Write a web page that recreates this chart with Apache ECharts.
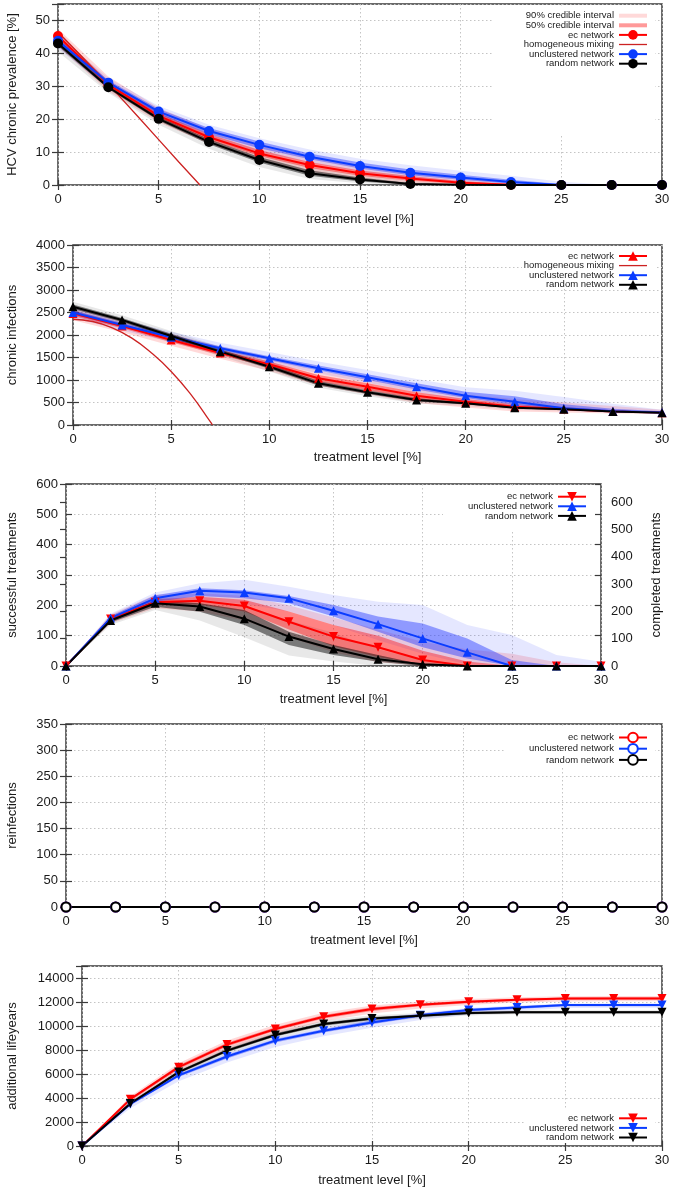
<!DOCTYPE html>
<html>
<head>
<meta charset="utf-8">
<script src="https://cdn.jsdelivr.net/npm/echarts@6/dist/echarts.min.js"></script>
<style>
  body { margin: 0; background: #fff; }
  .panel { position: absolute; left: 0; width: 675px; }
</style>
</head>
<body>
<div id="p1" class="panel" style="top:0;height:228px"></div>
<div id="p2" class="panel" style="top:228px;height:237px"></div>
<div id="p3" class="panel" style="top:465px;height:245px"></div>
<div id="p4" class="panel" style="top:710px;height:240px"></div>
<div id="p5" class="panel" style="top:950px;height:240px"></div>
<script>
// treatment levels [%]
const levels = [0, 2.5, 5, 7.5, 10, 12.5, 15, 17.5, 20, 22.5, 25, 27.5, 30];

// panel 1: HCV chronic prevalence [%]
const ecPrev = [45.3, 30.5, 21.0, 14.5, 9.6, 6.1, 3.6, 2.0, 0.7, 0.1, 0, 0, 0];
const uncPrev = [43.8, 31.1, 22.3, 16.4, 12.2, 8.6, 5.8, 3.7, 2.3, 0.9, 0, 0, 0];
const randPrev = [43.0, 29.7, 20.1, 13.1, 7.6, 3.6, 1.7, 0.3, 0.05, 0, 0, 0, 0];
const hmPrevX = [0, 1, 2, 3, 4, 5, 6, 7.05];
const hmPrevY = [46.5, 40.2, 33.8, 27.3, 20.6, 13.8, 7.0, 0];
const ecPrev90Lo = [42, 28.5, 19, 12.5, 7.5, 4, 1.8, 0.6, 0, 0, 0, 0, 0];
const ecPrev90Hi = [47.5, 33, 23.5, 17, 12, 8.5, 5.5, 3.5, 2, 0.8, 0.2, 0, 0];
const ecPrev50Lo = [44.3, 29.8, 20.2, 13.7, 8.8, 5.2, 2.8, 1.3, 0.3, 0, 0, 0, 0];
const ecPrev50Hi = [46.4, 31.5, 21.9, 15.5, 10.6, 7.0, 4.4, 2.7, 1.2, 0.3, 0, 0, 0];
const uncPrev90Lo = [41.5, 29.5, 20.5, 14.3, 10, 6.8, 4, 2, 0.7, 0, 0, 0, 0];
const uncPrev90Hi = [45.5, 32.5, 24, 18.3, 14.2, 10.8, 8, 6, 4.3, 2.8, 1, 0, 0];
const uncPrev50Lo = [43, 30.4, 21.5, 15.4, 11.2, 7.8, 5, 3, 1.6, 0.4, 0, 0, 0];
const uncPrev50Hi = [44.6, 31.8, 23.1, 17.3, 13.2, 9.6, 6.8, 4.7, 3.1, 1.6, 0.3, 0, 0];
const randPrev90Lo = [40.5, 28, 18.3, 11, 5.5, 1.8, 0.5, 0, 0, 0, 0, 0, 0];
const randPrev90Hi = [45, 31, 22, 15, 9.7, 5.5, 3.2, 1.2, 0.4, 0, 0, 0, 0];
const randPrev50Lo = [42.2, 29.2, 19.5, 12.4, 6.8, 2.8, 1.1, 0.1, 0, 0, 0, 0, 0];
const randPrev50Hi = [43.8, 30.3, 20.8, 13.9, 8.5, 4.5, 2.3, 0.6, 0.1, 0, 0, 0, 0];

// panel 2: chronic infections
const ecChronic = [2480, 2200, 1890, 1600, 1350, 1037, 851, 651, 518, 407, 355, 300, 275];
const uncChronic = [2500, 2222, 1950, 1704, 1482, 1260, 1059, 851, 651, 518, 371, 305, 278];
const randChronic = [2629, 2333, 1978, 1630, 1296, 926, 726, 555, 481, 384, 349, 298, 273];
const hmChronicX = [0, 1, 2, 3, 4, 5, 6, 7, 7.1];
const hmChronicY = [2350, 2300, 2160, 1930, 1600, 1190, 680, 70, 0];
const ecChronic90Lo = [2330, 2060, 1760, 1470, 1200, 880, 680, 490, 390, 300, 280, 255, 245];
const ecChronic90Hi = [2620, 2340, 2030, 1740, 1500, 1200, 1020, 820, 680, 580, 500, 420, 340];
const ecChronic50Lo = [2420, 2150, 1840, 1550, 1290, 970, 780, 580, 460, 370, 330, 285, 262];
const ecChronic50Hi = [2540, 2250, 1940, 1660, 1410, 1110, 930, 730, 580, 460, 400, 330, 295];
const uncChronic90Lo = [2380, 2100, 1840, 1600, 1380, 1150, 940, 730, 540, 400, 320, 275, 255];
const uncChronic90Hi = [2620, 2340, 2070, 1830, 1620, 1410, 1220, 1020, 840, 760, 620, 470, 340];
const uncChronic50Lo = [2450, 2170, 1900, 1660, 1440, 1210, 1000, 790, 600, 450, 345, 292, 268];
const uncChronic50Hi = [2550, 2270, 2000, 1750, 1530, 1320, 1130, 930, 740, 640, 460, 360, 305];
const randChronic90Lo = [2520, 2230, 1870, 1530, 1190, 830, 640, 480, 420, 340, 315, 280, 258];
const randChronic90Hi = [2740, 2440, 2090, 1740, 1410, 1030, 820, 640, 540, 430, 385, 330, 305];
const randChronic50Lo = [2580, 2290, 1930, 1590, 1250, 880, 690, 520, 455, 365, 335, 292, 266];
const randChronic50Hi = [2680, 2380, 2030, 1680, 1350, 980, 770, 595, 505, 405, 365, 315, 285];

// panel 3: successful treatments
const ecSucc = [0, 155, 210, 215, 198, 146, 97, 62, 20, 0, 0, 0, 0];
const uncSucc = [0, 158, 223, 248, 242, 223, 182, 138, 91, 45, 0, 0, 0];
const randSucc = [0, 150, 207, 196, 156, 97, 56, 22, 6, 0, 0, 0, 0];
const ecSucc90Lo = [0, 140, 190, 180, 150, 95, 45, 12, 0, 0, 0, 0, 0];
const ecSucc90Hi = [0, 170, 235, 240, 232, 200, 160, 120, 80, 55, 40, 12, 0];
const ecSucc50Lo = [0, 148, 202, 203, 180, 120, 65, 30, 5, 0, 0, 0, 0];
const ecSucc50Hi = [0, 162, 220, 228, 218, 180, 135, 100, 50, 15, 0, 0, 0];
const uncSucc90Lo = [0, 145, 200, 215, 205, 180, 135, 85, 40, 5, 0, 0, 0];
const uncSucc90Hi = [0, 172, 242, 273, 284, 261, 234, 212, 201, 135, 102, 36, 14];
const uncSucc50Lo = [0, 152, 212, 231, 223, 207, 163, 113, 62, 25, 0, 0, 0];
const uncSucc50Hi = [0, 165, 233, 256, 250, 231, 201, 163, 140, 91, 20, 0, 0];
const randSucc90Lo = [0, 135, 185, 150, 95, 35, 15, 0, 0, 0, 0, 0, 0];
const randSucc90Hi = [0, 165, 225, 215, 195, 150, 110, 55, 20, 0, 0, 0, 0];
const randSucc50Lo = [0, 143, 195, 179, 135, 69, 36, 14, 0, 0, 0, 0, 0];
const randSucc50Hi = [0, 157, 215, 207, 185, 113, 69, 36, 5, 0, 0, 0, 0];

// panel 4: reinfections
const ecReinf = [0, 0, 0, 0, 0, 0, 0, 0, 0, 0, 0, 0, 0];
const uncReinf = [0, 0, 0, 0, 0, 0, 0, 0, 0, 0, 0, 0, 0];
const randReinf = [0, 0, 0, 0, 0, 0, 0, 0, 0, 0, 0, 0, 0];

// panel 5: additional lifeyears
const ecLife = [0, 3900, 6570, 8450, 9750, 10770, 11410, 11765, 12013, 12180, 12290, 12290, 12290];
const uncLife = [0, 3500, 5880, 7460, 8780, 9610, 10300, 10900, 11325, 11540, 11740, 11740, 11740];
const randLife = [0, 3540, 6160, 7950, 9250, 10165, 10630, 10850, 11077, 11150, 11150, 11150, 11150];
const ecLife90Lo = [0, 3600, 6200, 8050, 9350, 10400, 11050, 11450, 11750, 11950, 12050, 12070, 12070];
const ecLife90Hi = [0, 4150, 6900, 8800, 10100, 11100, 11700, 12050, 12250, 12400, 12480, 12500, 12500];
const ecLife50Lo = [0, 3780, 6420, 8300, 9600, 10620, 11260, 11640, 11900, 12080, 12190, 12200, 12200];
const ecLife50Hi = [0, 4000, 6720, 8600, 9900, 10920, 11560, 11880, 12120, 12280, 12380, 12390, 12390];
const uncLife90Lo = [0, 3150, 5400, 6950, 8250, 9150, 9850, 10500, 10950, 11250, 11500, 11520, 11520];
const uncLife90Hi = [0, 3700, 6100, 7700, 9000, 9850, 10550, 11100, 11500, 11700, 11880, 11900, 11900];
const uncLife50Lo = [0, 3400, 5750, 7300, 8620, 9450, 10150, 10770, 11200, 11420, 11640, 11650, 11650];
const uncLife50Hi = [0, 3600, 6000, 7600, 8920, 9760, 10450, 11020, 11430, 11640, 11830, 11830, 11830];
const randLife90Lo = [0, 3350, 5900, 7650, 8950, 9850, 10350, 10620, 10880, 10970, 10980, 10980, 10980];
const randLife90Hi = [0, 3750, 6400, 8250, 9550, 10450, 10900, 11080, 11270, 11320, 11320, 11320, 11320];
const randLife50Lo = [0, 3450, 6050, 7820, 9120, 10020, 10500, 10740, 10980, 11060, 11070, 11070, 11070];
const randLife50Hi = [0, 3640, 6270, 8090, 9390, 10300, 10760, 10960, 11170, 11240, 11240, 11240, 11240];

const FONT = "'Liberation Sans', Arial, sans-serif";
const TXT = "#1a1a1a";
const BORDER = "#3a3a3a";
const RED = "#ff0000";
const BLUE = "#0a3cff";
const BLACK = "#000000";
const HM_RED = "#cc2222";
const RED90 = "rgba(255,0,0,0.15)";
const RED50 = "rgba(255,0,0,0.4)";
const BLUE90 = "rgba(40,60,255,0.12)";
const BLUE50 = "rgba(40,60,255,0.45)";
const GRAY90 = "rgba(0,0,0,0.09)";
const GRAY50 = "rgba(0,0,0,0.48)";

const nameStyle = { fontSize: 13, color: TXT, fontFamily: FONT };
const gridLine = { show: true, lineStyle: { color: "#c4c4c4", width: 1, type: [1.5, 2.5] } };
const tickLine = { color: BORDER, width: 1.2 };

const pairs = (xs, ys) => xs.map((x, i) => [x, ys[i]]);

// filled polygon between lower and upper bound of a credible interval
function band(name, lo, hi, fill) {
  return {
    name,
    type: "custom",
    z: 2,
    silent: true,
    itemStyle: { color: fill },
    encode: { x: 0, y: [1, 2] },
    data: levels.map((x, i) => [x, lo[i], hi[i]]),
    renderItem: (params, api) => {
      if (params.dataIndex !== 0) return null;
      const upper = levels.map((x, i) => api.coord([x, hi[i]]));
      const lower = levels.map((x, i) => api.coord([x, lo[i]])).reverse();
      return { type: "polygon", shape: { points: upper.concat(lower) }, style: { fill } };
    },
  };
}

function line(name, ys, color, symbol, extra) {
  return {
    name,
    type: "line",
    z: 3,
    data: pairs(levels, ys),
    symbol,
    symbolSize: 9,
    color,
    lineStyle: { width: 2, color },
    itemStyle: { color },
    ...extra,
  };
}

function xAxes(nameGap) {
  const base = { type: "value", min: 0, max: 30, interval: 5, axisLine: { show: false } };
  return [
    {
      ...base,
      position: "bottom",
      name: "treatment level [%]",
      nameLocation: "middle",
      nameGap,
      nameTextStyle: nameStyle,
      axisTick: { inside: true, length: 5, lineStyle: tickLine },
      axisLabel: { margin: 8, fontSize: 13, color: TXT, fontFamily: FONT },
      splitLine: gridLine,
    },
    {
      ...base,
      position: "top",
      axisTick: { inside: true, length: 5, lineStyle: tickLine },
      axisLabel: { show: false },
      splitLine: { show: false },
    },
  ];
}

function yAxes(max, interval, name, nameGap) {
  const base = {
    type: "value",
    min: 0,
    max,
    interval,
    axisLine: { show: false },
    axisTick: { inside: true, length: 6, lineStyle: tickLine },
  };
  return [
    {
      ...base,
      position: "left",
      name,
      nameLocation: "middle",
      nameGap,
      nameTextStyle: nameStyle,
      axisLabel: {
        margin: 8,
        fontSize: 13,
        color: TXT,
        fontFamily: FONT,
        formatter: (v) => (v % interval === 0 ? String(v) : ""),
      },
      splitLine: gridLine,
    },
    { ...base, position: "right", axisLabel: { show: false }, splitLine: { show: false } },
  ];
}

function grid(left, right, top, bottom) {
  return {
    left, right, top, bottom,
    show: true,
    borderColor: BORDER,
    borderWidth: 1.5,
    backgroundColor: "transparent",
    containLabel: false,
    outerBoundsMode: "none",
  };
}

function legend(data, top, right) {
  return {
    orient: "vertical",
    align: "right",
    top,
    right,
    padding: 0,
    itemWidth: 28,
    itemHeight: 12,
    itemGap: -0.4,
    selectedMode: false,
    textStyle: { fontSize: 9.5, lineHeight: 10, color: TXT, fontFamily: FONT },
    data,
  };
}

// white box behind the key, hides the grid lines there
function keyBox(x, y, width, height) {
  return [{ type: "rect", z: 1, silent: true, shape: { x, y, width, height }, style: { fill: "#fff" } }];
}

function draw(id, option) {
  const chart = echarts.init(document.getElementById(id));
  chart.setOption({ animation: false, textStyle: { fontFamily: FONT }, ...option });
}

const bandIcon = "path://M0,0H28V4H0Z";
const thinIcon = "path://M0,0H28V1.3H0Z";

draw("p1", {
  grid: grid(58, 13, 4, 43),
  xAxis: xAxes(27.5),
  yAxis: yAxes(55, 10, "HCV chronic prevalence [%]", 39),
  graphic: keyBox(492, 6, 163, 130),
  legend: legend(
    [
      { name: "90% credible interval", icon: bandIcon, itemStyle: { color: RED90 } },
      { name: "50% credible interval", icon: bandIcon, itemStyle: { color: RED50 } },
      "ec network",
      { name: "homogeneous mixing", icon: thinIcon, itemStyle: { color: HM_RED } },
      "unclustered network",
      "random network",
    ],
    10.7,
    27
  ),
  series: [
    band("90% credible interval", ecPrev90Lo, ecPrev90Hi, RED90),
    band("blue 90", uncPrev90Lo, uncPrev90Hi, BLUE90),
    band("black 90", randPrev90Lo, randPrev90Hi, GRAY90),
    band("50% credible interval", ecPrev50Lo, ecPrev50Hi, RED50),
    band("blue 50", uncPrev50Lo, uncPrev50Hi, BLUE50),
    band("black 50", randPrev50Lo, randPrev50Hi, GRAY50),
    line("ec network", ecPrev, RED, "circle", { symbolSize: 10 }),
    {
      name: "homogeneous mixing",
      type: "line",
      z: 3,
      data: pairs(hmPrevX, hmPrevY),
      symbol: "none",
      color: HM_RED,
      lineStyle: { width: 1.3, color: HM_RED },
    },
    line("unclustered network", uncPrev, BLUE, "circle", { symbolSize: 10 }),
    line("random network", randPrev, BLACK, "circle", { symbolSize: 10 }),
  ],
});

draw("p2", {
  grid: grid(73, 13, 17, 40),
  xAxis: xAxes(25.5),
  yAxis: yAxes(4000, 500, "chronic infections", 54.5),
  graphic: keyBox(522, 19, 133, 40),
  legend: legend(
    [
      "ec network",
      { name: "homogeneous mixing", icon: thinIcon, itemStyle: { color: HM_RED } },
      "unclustered network",
      "random network",
    ],
    23,
    27
  ),
  series: [
    band("red 90", ecChronic90Lo, ecChronic90Hi, RED90),
    band("blue 90", uncChronic90Lo, uncChronic90Hi, BLUE90),
    band("black 90", randChronic90Lo, randChronic90Hi, GRAY90),
    band("red 50", ecChronic50Lo, ecChronic50Hi, RED50),
    band("blue 50", uncChronic50Lo, uncChronic50Hi, BLUE50),
    band("black 50", randChronic50Lo, randChronic50Hi, GRAY50),
    line("ec network", ecChronic, RED, "triangle"),
    {
      name: "homogeneous mixing",
      type: "line",
      z: 3,
      data: pairs(hmChronicX, hmChronicY),
      symbol: "none",
      smooth: true,
      color: HM_RED,
      lineStyle: { width: 1.3, color: HM_RED },
    },
    line("unclustered network", uncChronic, BLUE, "triangle"),
    line("random network", randChronic, BLACK, "triangle"),
  ],
});

const p3y = yAxes(600, 100, "successful treatments", 47.5);
draw("p3", {
  grid: grid(66, 74, 19, 44),
  xAxis: xAxes(26.5),
  yAxis: [
    p3y[0],
    {
      type: "value",
      position: "right",
      min: 0,
      max: 666.67,
      interval: 100,
      name: "completed treatments",
      nameLocation: "middle",
      nameRotate: 90,
      nameGap: 49,
      nameTextStyle: nameStyle,
      axisLine: { show: false },
      axisTick: { inside: true, length: 6, lineStyle: tickLine },
      axisLabel: {
        margin: 10,
        fontSize: 13,
        color: TXT,
        fontFamily: FONT,
        formatter: (v) => (v % 100 === 0 ? String(v) : ""),
      },
      splitLine: { show: false },
    },
    p3y[1],
  ],
  graphic: keyBox(443, 21, 152, 46),
  legend: legend(["ec network", "unclustered network", "random network"], 26.7, 88),
  series: [
    band("red 90", ecSucc90Lo, ecSucc90Hi, RED90),
    band("blue 90", uncSucc90Lo, uncSucc90Hi, BLUE90),
    band("black 90", randSucc90Lo, randSucc90Hi, GRAY90),
    band("red 50", ecSucc50Lo, ecSucc50Hi, RED50),
    band("blue 50", uncSucc50Lo, uncSucc50Hi, BLUE50),
    band("black 50", randSucc50Lo, randSucc50Hi, GRAY50),
    line("ec network", ecSucc, RED, "triangle", { symbolRotate: 180 }),
    line("unclustered network", uncSucc, BLUE, "triangle"),
    line("random network", randSucc, BLACK, "triangle"),
  ],
});

draw("p4", {
  grid: grid(66, 13, 14, 43),
  xAxis: xAxes(26.5),
  yAxis: yAxes(350, 50, "reinfections", 47.5),
  graphic: keyBox(505, 16, 150, 40),
  legend: legend(["ec network", "unclustered network", "random network"], 21.7, 27),
  series: [
    line("ec network", ecReinf, RED, "emptyCircle", { itemStyle: { color: RED, borderWidth: 2 } }),
    line("unclustered network", uncReinf, BLUE, "emptyCircle", { itemStyle: { color: BLUE, borderWidth: 2 } }),
    line("random network", randReinf, BLACK, "emptyCircle", { itemStyle: { color: BLACK, borderWidth: 2 } }),
  ],
});

draw("p5", {
  grid: grid(82, 13, 16, 44),
  xAxis: xAxes(27.5),
  yAxis: yAxes(15000, 2000, "additional lifeyears", 63.5),
  graphic: keyBox(525, 158, 130, 35),
  legend: legend(["ec network", "unclustered network", "random network"], 163.3, 27),
  series: [
    band("red 90", ecLife90Lo, ecLife90Hi, RED90),
    band("blue 90", uncLife90Lo, uncLife90Hi, BLUE90),
    band("black 90", randLife90Lo, randLife90Hi, GRAY90),
    band("red 50", ecLife50Lo, ecLife50Hi, RED50),
    band("blue 50", uncLife50Lo, uncLife50Hi, BLUE50),
    band("black 50", randLife50Lo, randLife50Hi, GRAY50),
    line("ec network", ecLife, RED, "triangle", { symbolRotate: 180 }),
    line("unclustered network", uncLife, BLUE, "triangle", { symbolRotate: 180 }),
    line("random network", randLife, BLACK, "triangle", { symbolRotate: 180 }),
  ],
});
</script>
</body>
</html>
